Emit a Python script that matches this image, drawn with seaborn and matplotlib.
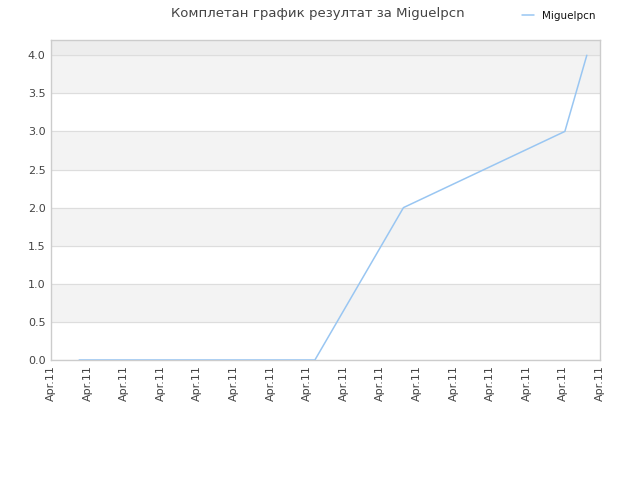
import matplotlib
matplotlib.use("Agg")
import matplotlib.pyplot as plt
import seaborn as sns
import pandas as pd

# podaci ocitani sa slike (x u jedinicama podeoka)
vreme = [0.77, 7.21, 9.63, 14.04, 14.64]
rezultat = [0, 0, 2, 3, 4]
podeoci = list(range(16))
oznake = ["Apr.11"] * 16
igrac = "Miguelpcn"

df = pd.DataFrame({"vreme": vreme, "rezultat": rezultat, "igrac": igrac})

sns.set_style("white")
plt.rcParams['font.family'] = ['DejaVu Sans']

fig = plt.figure(figsize=(6.4, 4.8), dpi=100)
ax = fig.add_axes([0.0797, 0.25, 0.8578, 0.6667])

# pozadinske trake
for i in range(8):
    if i % 2 == 1:
        ax.axhspan(i * 0.5, (i + 1) * 0.5, color="#f3f3f3", zorder=0)
ax.axhspan(4.0, 4.2, color="#ededed", zorder=0)
for i in range(9):
    ax.axhline(i * 0.5, color="#dddddd", lw=0.8, zorder=1)

sns.lineplot(data=df, x="vreme", y="rezultat", hue="igrac", palette=["#99c6f2"],
             lw=1.1, ax=ax, zorder=3)

ax.set_xlim(0, 15)
ax.set_ylim(0, 4.2)
ax.set_xticks(podeoci)
ax.set_xticklabels(oznake, rotation=90, fontsize=8, color="#444444")
ax.set_yticks([i * 0.5 for i in range(9)])
ax.set_yticklabels([f"{i * 0.5:.1f}" for i in range(9)], fontsize=8, color="#444444")
ax.set_xlabel("")
ax.set_ylabel("")
ax.tick_params(length=0, pad=4)
for s in ax.spines.values():
    s.set_color("#cccccc")
    s.set_linewidth(1)

fig.suptitle("Комплетан график резултат за Miguelpcn", x=0.497, y=0.985,
             fontsize=9.5, color="#444444")
leg = ax.legend(loc="upper right", bbox_to_anchor=(1.0, 1.105),
                frameon=False, fontsize=7.5, handlelength=1.2, borderaxespad=0)
for t in leg.get_texts():
    t.set_color("#111111")
fig.savefig("out.png")
